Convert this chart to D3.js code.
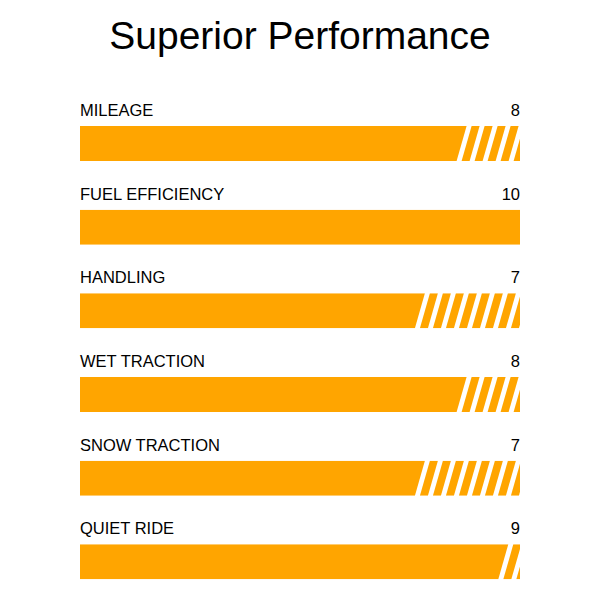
<!DOCTYPE html>
<html>
<head>
<meta charset="utf-8">
<script src="https://cdn.jsdelivr.net/npm/d3@7"></script>
<style>
  body { margin: 0; background: #fff; }
  text { font-family: "Liberation Sans", Arial, sans-serif; }
</style>
</head>
<body>
<script>
// data
var categories = ["MILEAGE", "FUEL EFFICIENCY", "HANDLING", "WET TRACTION", "SNOW TRACTION", "QUIET RIDE"];
var scores = [8, 10, 7, 8, 7, 9];
var maxScore = 10;

var orange = "#ffa500";
var barH = 35, slant = 10;
var stripeW = 8, stripeGap = 5;

var svg = d3.select("body").append("svg")
  .attr("width", 600)
  .attr("height", 600);

// title
svg.append("text")
  .attr("x", 300)
  .attr("y", 49)
  .attr("text-anchor", "middle")
  .attr("font-size", 39)
  .attr("fill", "#000")
  .text("Superior Performance");

// track scale and the scale for where the solid fill ends
var x = d3.scaleLinear().domain([0, maxScore]).range([80, 520]);
var fillX = d3.scaleLinear().domain([0, maxScore]).range([128, 545]);
var y = d3.scaleBand().domain(categories).range([101, 603]);

var rows = svg.selectAll("g.row")
  .data(categories)
  .enter().append("g")
  .attr("class", "row")
  .attr("transform", function(d) { return "translate(0," + y(d) + ")"; });

// clip each bar to its track
rows.append("clipPath")
  .attr("id", function(d, i) { return "clip" + i; })
  .append("rect")
  .attr("x", x(0))
  .attr("y", 25)
  .attr("width", x(maxScore) - x(0))
  .attr("height", barH);

// labels
rows.append("text")
  .attr("x", x(0))
  .attr("y", 15)
  .attr("font-size", 16.5)
  .attr("fill", "#000")
  .text(function(d) { return d; });

rows.append("text")
  .attr("x", x(maxScore))
  .attr("y", 15)
  .attr("text-anchor", "end")
  .attr("font-size", 16.5)
  .attr("fill", "#000")
  .text(function(d, i) { return scores[i]; });

var bars = rows.append("g")
  .attr("clip-path", function(d, i) { return "url(#clip" + i + ")"; });

// solid part with slanted end
bars.append("path")
  .attr("fill", orange)
  .attr("d", function(d, i) {
    var e = fillX(scores[i]), t = 25, b = 25 + barH;
    return "M" + x(0) + "," + t + "L" + (e + slant / 2) + "," + t +
      "L" + (e - slant / 2) + "," + b + "L" + x(0) + "," + b + "Z";
  });

// diagonal stripes for the rest
bars.each(function(d, i) {
  var e = fillX(scores[i]);
  if (e - slant / 2 >= x(maxScore)) return;
  var start = e + slant / 2 + stripeGap;
  var period = stripeW + stripeGap;
  var n = Math.ceil((x(maxScore) + slant - start) / period) + 1;
  d3.select(this).selectAll("path.stripe")
    .data(d3.range(n))
    .enter().append("path")
    .attr("class", "stripe")
    .attr("fill", orange)
    .attr("d", function(k) {
      var l = start + k * period, t = 25, b = 25 + barH;
      return "M" + l + "," + t + "L" + (l + stripeW) + "," + t +
        "L" + (l + stripeW - slant) + "," + b + "L" + (l - slant) + "," + b + "Z";
    });
});
</script>
</body>
</html>
